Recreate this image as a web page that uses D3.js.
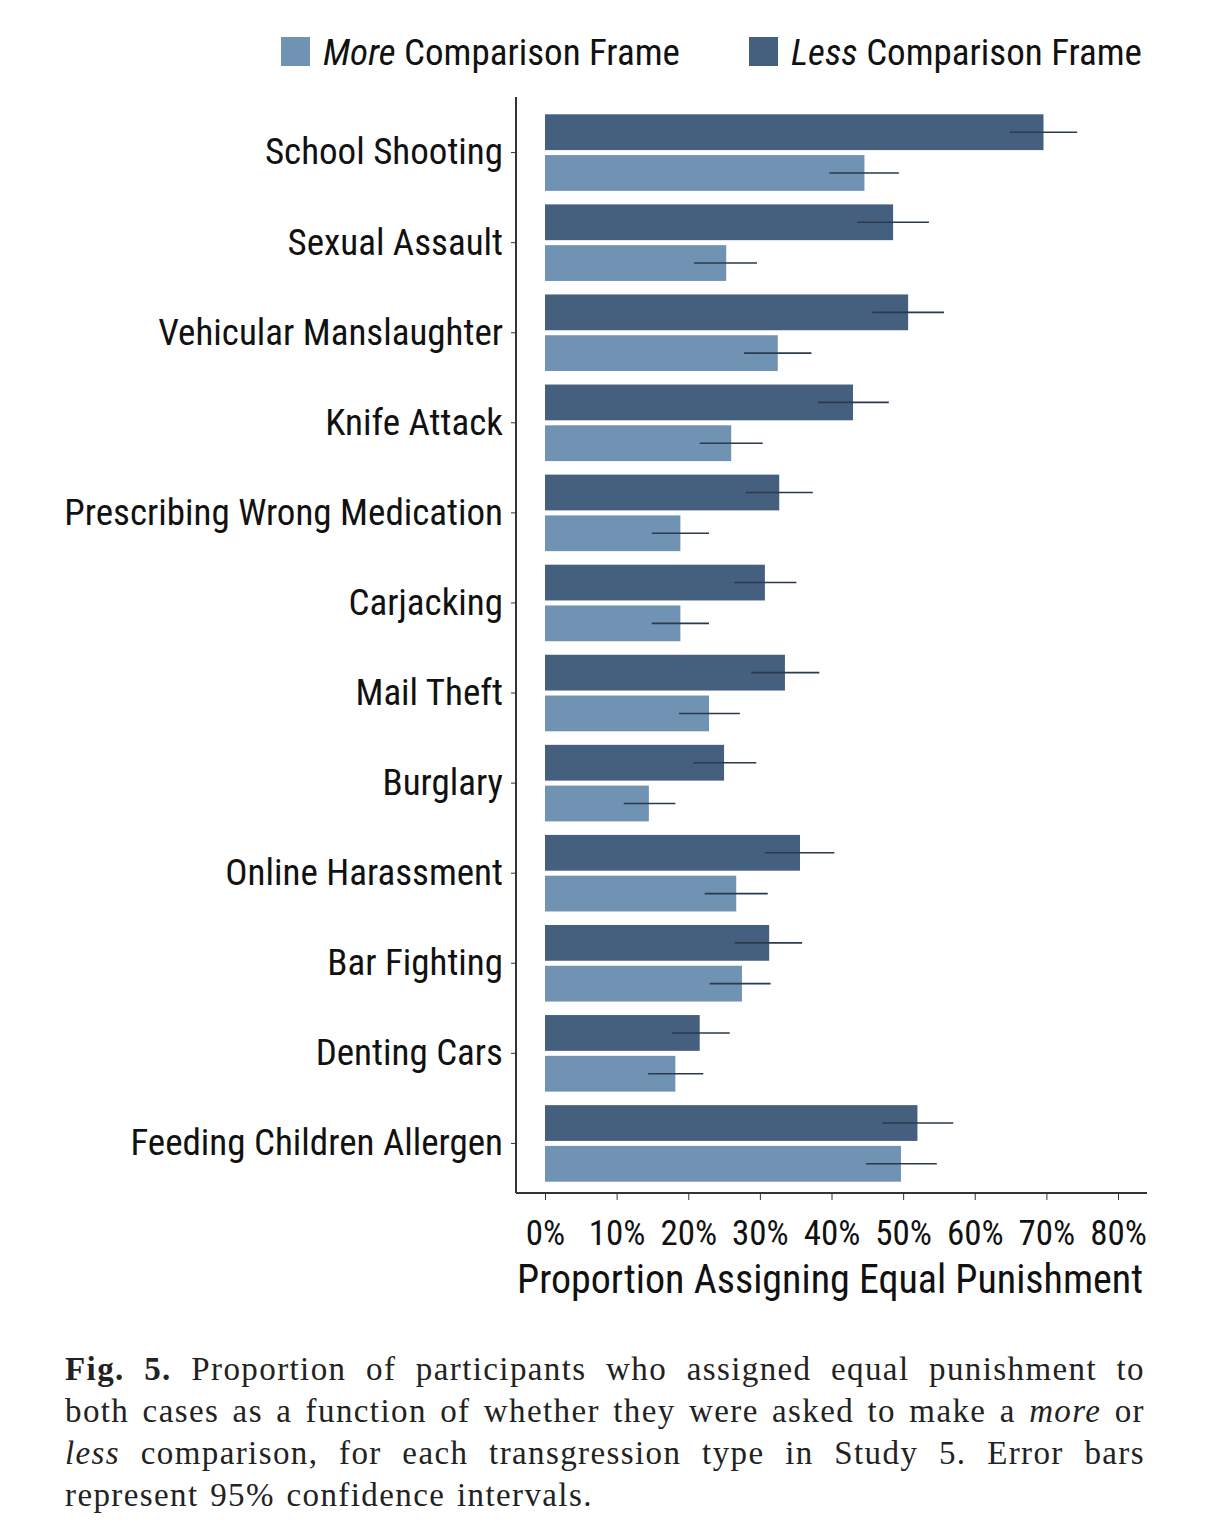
<!DOCTYPE html>
<html><head><meta charset="utf-8">
<script src="https://cdn.jsdelivr.net/npm/d3@7"></script>
<style>
body{margin:0;background:#fff;width:1210px;height:1540px;position:relative;}
.cap{position:absolute;left:65px;top:1348px;width:1080px;font-family:"Liberation Serif","DejaVu Serif",serif;font-size:33px;letter-spacing:1.4px;word-spacing:2px;line-height:42px;text-align:justify;color:#222;}
.nar{font-family:"Liberation Sans Narrow","Roboto Condensed","Liberation Sans",sans-serif;}
</style></head><body>
<svg id="c" width="1210" height="1330"></svg>
<div class="cap"><b>Fig. 5.</b> Proportion of participants who assigned equal punishment to both cases as a function of whether they were asked to make a <i>more</i> or <i>less</i> comparison, for each transgression type in Study 5. Error bars represent 95% confidence intervals.</div>
<script>
const categories=["School Shooting","Sexual Assault","Vehicular Manslaughter","Knife Attack","Prescribing Wrong Medication","Carjacking","Mail Theft","Burglary","Online Harassment","Bar Fighting","Denting Cars","Feeding Children Allergen"];
const lessVals=[69.6,48.6,50.7,43.0,32.7,30.7,33.5,25.0,35.6,31.3,21.6,52.0];
const lessLo=[64.9,43.6,45.7,38.1,28.0,26.4,28.8,20.7,30.7,26.5,17.7,47.1];
const lessHi=[74.3,53.6,55.7,48.0,37.4,35.1,38.3,29.5,40.4,35.9,25.8,57.0];
const moreVals=[44.6,25.3,32.5,26.0,18.9,18.9,22.9,14.5,26.7,27.5,18.2,49.7];
const moreLo=[39.7,20.8,27.8,21.6,14.9,14.9,18.7,11.0,22.3,23.0,14.4,44.8];
const moreHi=[49.4,29.6,37.2,30.4,22.9,22.9,27.2,18.2,31.1,31.5,22.1,54.7];
const ticks=[0,10,20,30,40,50,60,70,80];
const C_LESS="#455f7e",C_MORE="#7092b3";
const svg=d3.select("#c");
const x=d3.scaleLinear().domain([0,80]).range([545,1118]);
const y=d3.scaleBand().domain(categories).range([108,1188]).paddingInner(0.15).paddingOuter(0.07);
const g=svg.append("g");
const sub=y.bandwidth()/2;
categories.forEach((c,i)=>{
  const y0=y(c);
  [[lessVals,lessLo,lessHi,C_LESS,0],[moreVals,moreLo,moreHi,C_MORE,1]].forEach(([v,lo,hi,col,k])=>{
    const h=sub-2.5, top=y0+k*(sub+2.5);
    g.append("rect").attr("x",x(0)).attr("y",top).attr("width",x(v[i])-x(0)).attr("height",h).attr("fill",col);
    g.append("line").attr("x1",x(lo[i])).attr("x2",x(hi[i])).attr("y1",top+h/2).attr("y2",top+h/2).attr("stroke","#2b3a4e").attr("stroke-width",1.6);
  });
});
const ax=svg.append("g").attr("transform","translate(0,1193)").call(d3.axisBottom(x).tickValues(ticks).tickFormat(d=>d+"%").tickSize(7).tickSizeOuter(0));
ax.select(".domain").attr("d","M516,0H1147").attr("stroke","#333").attr("stroke-width",2);
ax.selectAll(".tick line").attr("stroke","#333");
ax.selectAll("text").attr("class","nar").attr("font-size",35).attr("fill","#111").attr("dy","1.2em");
const ay=svg.append("g").attr("transform","translate(516,0)").call(d3.axisLeft(y).tickSize(5).tickSizeOuter(0));
ay.select(".domain").attr("d","M0,97V1193").attr("stroke","#333").attr("stroke-width",2);
ay.selectAll(".tick line").attr("stroke","#333");
ay.selectAll("text").attr("class","nar").attr("font-size",37).attr("fill","#111").attr("x",-13);
svg.append("text").attr("class","nar").attr("x",830).attr("y",1293).attr("text-anchor","middle").attr("font-size",40).attr("fill","#111").text("Proportion Assigning Equal Punishment");
const leg=[["More",C_MORE,281],["Less",C_LESS,749]];
leg.forEach(([w,col,lx])=>{
  svg.append("rect").attr("x",lx).attr("y",37).attr("width",29).attr("height",29).attr("fill",col);
  const t=svg.append("text").attr("class","nar").attr("x",lx+42).attr("y",65).attr("font-size",37).attr("fill","#111");
  t.append("tspan").attr("font-style","italic").text(w);
  t.append("tspan").text(" Comparison Frame");
});
</script></body></html>
